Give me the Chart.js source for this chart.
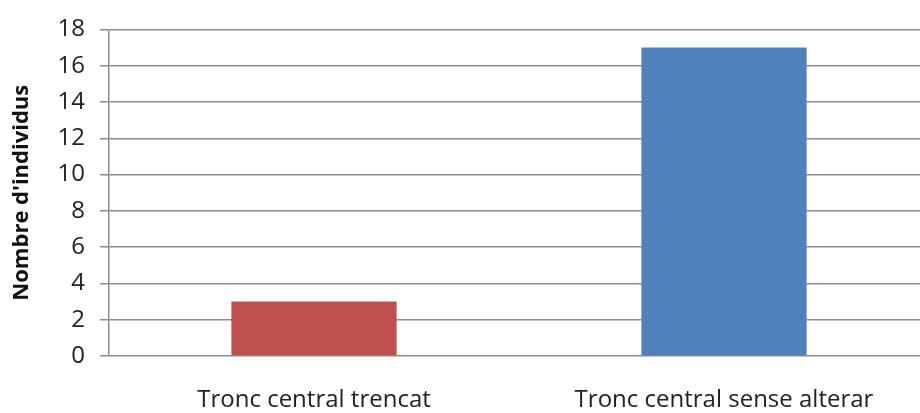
<!DOCTYPE html>
<html>
<head>
<meta charset="utf-8">
<script src="https://cdn.jsdelivr.net/npm/chart.js@4/dist/chart.umd.min.js"></script>
<style>
  html, body { margin: 0; padding: 0; background: #fff; }
  #wrap { width: 920px; height: 413px; overflow: hidden; }
</style>
</head>
<body>
<div id="wrap"><canvas id="chart" width="930" height="413"></canvas></div>
<script>
  // categories and counts
  const categories = ["Tronc central trencat", "Tronc central sense alterar"];
  const counts = [3, 17];
  const barColors = ["#C0504D", "#4F81BD"];
  const yTicks = [0, 2, 4, 6, 8, 10, 12, 14, 16, 18];

  const gridGray = "#8c8c8c";

  const ctx = document.getElementById("chart").getContext("2d");
  new Chart(ctx, {
    type: "bar",
    data: {
      labels: categories,
      datasets: [{
        data: counts,
        backgroundColor: barColors,
        borderWidth: 0,
        categoryPercentage: 1,
        barPercentage: 0.403
      }]
    },
    options: {
      responsive: false,
      animation: false,
      layout: { padding: { top: 29, right: 1, left: 0, bottom: 0 } },
      plugins: {
        legend: { display: false },
        tooltip: { enabled: false }
      },
      scales: {
        x: {
          grid: { display: false, drawTicks: false },
          border: { display: false },
          ticks: {
            color: "#222",
            padding: 30,
            maxRotation: 0,
            font: { family: "Open Sans", size: 24 }
          },
          afterFit: (scale) => { scale.height = 57; }
        },
        y: {
          min: 0,
          max: 18,
          afterBuildTicks: (scale) => {
            scale.ticks = yTicks.map(v => ({ value: v }));
          },
          grid: { color: gridGray, lineWidth: 1.5, tickLength: 9 },
          border: { color: gridGray, width: 1.5 },
          ticks: {
            color: "#222",
            padding: 15,
            font: { family: "Open Sans", size: 24 }
          },
          title: {
            display: true,
            text: "Nombre d'individus",
            color: "#111",
            padding: { top: 9, bottom: 0 },
            font: { family: "Open Sans", size: 22, weight: "bold" }
          },
          afterFit: (scale) => { scale.width = 109; }
        }
      }
    }
  });
</script>
</body>
</html>
